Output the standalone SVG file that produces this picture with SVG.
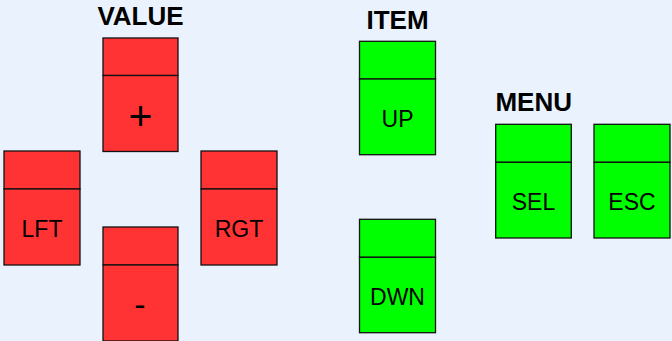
<svg xmlns="http://www.w3.org/2000/svg" width="672" height="341" viewBox="0 0 672 341">
<style>
.bg{fill:#EAF3FD}
.red{fill:#FF3333;stroke:#111;stroke-width:1.3}
.grn{fill:#00FF00;stroke:#111;stroke-width:1.3}
.lbl{font-family:"Liberation Sans",Arial,sans-serif;font-size:23px;fill:#000;text-anchor:middle}
.hdr{font-family:"Liberation Sans",Arial,sans-serif;font-size:26px;font-weight:bold;fill:#000;text-anchor:middle}
</style>
<rect class="bg" x="0" y="0" width="672" height="341"/>
<g id="titles">
<text class="hdr" x="140.5" y="25">VALUE</text>
<text class="hdr" x="397.5" y="29.3">ITEM</text>
<text class="hdr" x="533.7" y="110.7">MENU</text>
</g>
<g id="plus">
<rect class="red" x="103" y="38" width="75" height="37.5"/>
<rect class="red" x="103" y="75.5" width="75" height="76"/>
<text class="lbl" x="140.5" y="129.5" style="font-size:41px">+</text>
</g>
<g id="lft">
<rect class="red" x="4" y="151" width="76" height="38"/>
<rect class="red" x="4" y="189" width="76" height="76"/>
<text class="lbl" x="42" y="237">LFT</text>
</g>
<g id="rgt">
<rect class="red" x="201" y="151" width="76" height="38"/>
<rect class="red" x="201" y="189" width="76" height="76"/>
<text class="lbl" x="239" y="237">RGT</text>
</g>
<g id="minus">
<rect class="red" x="103" y="227" width="75" height="38"/>
<rect class="red" x="103" y="265" width="75" height="76"/>
<text class="lbl" x="140" y="315.7" style="font-size:34px">-</text>
</g>
<g id="up">
<rect class="grn" x="359.5" y="41.3" width="76" height="37.7"/>
<rect class="grn" x="359.5" y="79" width="76" height="75.7"/>
<text class="lbl" x="397.5" y="126.7">UP</text>
</g>
<g id="dwn">
<rect class="grn" x="359.5" y="219.3" width="76" height="38"/>
<rect class="grn" x="359.5" y="257.3" width="76" height="75.4"/>
<text class="lbl" x="397.5" y="305">DWN</text>
</g>
<g id="sel">
<rect class="grn" x="495.7" y="124.3" width="75.6" height="38"/>
<rect class="grn" x="495.7" y="162.3" width="75.6" height="75.7"/>
<text class="lbl" x="533.5" y="210">SEL</text>
</g>
<g id="esc">
<rect class="grn" x="594" y="124.3" width="76" height="38"/>
<rect class="grn" x="594" y="162.3" width="76" height="75.7"/>
<text class="lbl" x="632" y="210">ESC</text>
</g>
<g id="connectors"/>
</svg>
